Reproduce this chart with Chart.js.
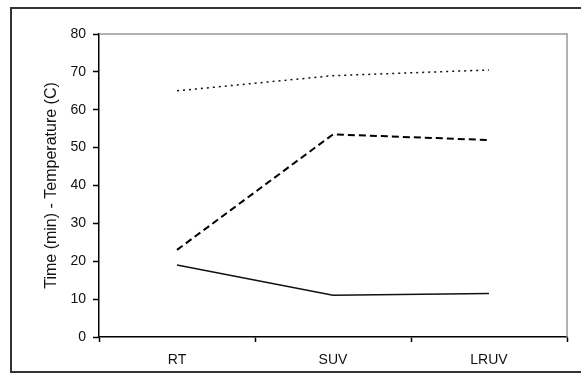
<!DOCTYPE html>
<html>
<head>
<meta charset="utf-8">
<script src="https://cdn.jsdelivr.net/npm/chart.js@4/dist/chart.umd.min.js"></script>
<style>
html,body{margin:0;padding:0;background:#fff;}
#wrap{width:581px;height:374px;position:relative;}
</style>
</head>
<body>
<div id="wrap"><canvas id="c" width="581" height="374"></canvas></div>
<script>
const categories = ["RT", "SUV", "LRUV"];
const solidSeries = [19, 11, 11.5];
const dashedSeries = [23, 53.5, 52];
const dottedSeries = [65, 69, 70.5];
const yTicks = [0, 10, 20, 30, 40, 50, 60, 70, 80];
const yTitle = "Time (min) - Temperature (C)";

const framePlugin = {
  id: 'frame',
  beforeDatasetsDraw(chart) {
    const ctx = chart.ctx, a = chart.chartArea;
    ctx.save();
    ctx.strokeStyle = '#999';
    ctx.lineWidth = 1.5;
    ctx.beginPath();
    ctx.moveTo(a.left, a.top);
    ctx.lineTo(a.right, a.top);
    ctx.lineTo(a.right, a.bottom);
    ctx.stroke();
    ctx.restore();
  },
  afterDraw(chart) {
    const ctx = chart.ctx;
    ctx.save();
    ctx.strokeStyle = '#333';
    ctx.lineWidth = 2;
    ctx.beginPath();
    ctx.moveTo(590, 8);
    ctx.lineTo(11, 8);
    ctx.lineTo(11, 372);
    ctx.lineTo(590, 372);
    ctx.stroke();
    ctx.restore();
  }
};

const fam = 'Liberation Sans, Arial, sans-serif';

new Chart(document.getElementById('c'), {
  type: 'line',
  data: {
    labels: categories,
    datasets: [
      {data: dottedSeries, borderColor: '#111', borderWidth: 1.5, borderDash: [2, 4], pointRadius: 0, tension: 0, fill: false},
      {data: dashedSeries, borderColor: '#000', borderWidth: 2, borderDash: [7, 4], pointRadius: 0, tension: 0, fill: false},
      {data: solidSeries, borderColor: '#111', borderWidth: 1.5, pointRadius: 0, tension: 0, fill: false}
    ]
  },
  options: {
    responsive: false,
    animation: false,
    layout: {padding: {left: 41, top: 34, right: 14, bottom: 7}},
    plugins: {legend: {display: false}, tooltip: {enabled: false}},
    scales: {
      x: {
        offset: true,
        grid: {offset: true, drawOnChartArea: false, drawTicks: true, tickLength: 5, color: '#000', tickWidth: 1.5},
        border: {display: true, color: '#000', width: 1.5},
        ticks: {color: '#111', padding: 10, font: {family: fam, size: 14}},
        afterFit(s) { s.height = 30; }
      },
      y: {
        min: 0, max: 80,
        afterBuildTicks(s) { s.ticks = yTicks.map(v => ({value: v})); },
        grid: {drawOnChartArea: false, drawTicks: true, tickLength: 6, color: '#000', tickWidth: 1.5},
        border: {display: true, color: '#000', width: 1.5},
        ticks: {color: '#111', padding: 7, font: {family: fam, size: 14}},
        title: {display: true, text: yTitle, color: '#111', padding: {top: 1, bottom: 0}, font: {family: fam, size: 16}},
        afterFit(s) { s.width = 58; }
      }
    }
  },
  plugins: [framePlugin]
});
</script>
</body>
</html>
